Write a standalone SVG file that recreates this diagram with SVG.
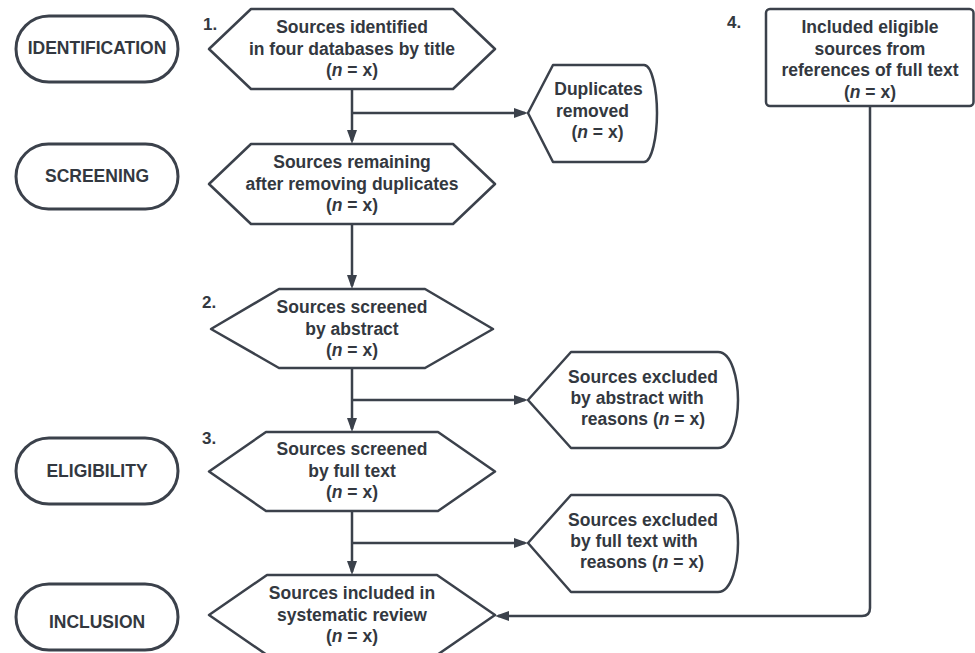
<svg xmlns="http://www.w3.org/2000/svg" width="975" height="653" viewBox="0 0 975 653">
<defs>
<style>
.sh{fill:#ffffff;stroke:#3b414b;stroke-width:2.5;stroke-linejoin:round}
.pill{fill:#ffffff;stroke:#3b414b;stroke-width:3}
.t{font-family:"Liberation Sans",Arial,sans-serif;font-weight:bold;font-size:17.5px;fill:#333840;text-anchor:middle}
.num{font-family:"Liberation Sans",Arial,sans-serif;font-weight:bold;font-size:17px;fill:#333840}
.c{fill:none;stroke:#3b414b;stroke-width:2.5}
.a{marker-end:url(#arr)}
</style>
<marker id="arr" markerUnits="userSpaceOnUse" markerWidth="16" markerHeight="12" refX="11" refY="5" orient="auto">
<path d="M0,0 L14,5 L0,10 Z" fill="#3b414b"/>
</marker>
</defs>
<rect width="975" height="653" fill="#ffffff"/>

<g id="stage-identification">
<rect class="pill" x="16" y="16" width="162" height="66" rx="33"/>
<text class="t" x="97" y="54">IDENTIFICATION</text>
</g>
<g id="stage-screening">
<rect class="pill" x="16" y="144" width="162" height="65" rx="32.5"/>
<text class="t" x="97" y="182">SCREENING</text>
</g>
<g id="stage-eligibility">
<rect class="pill" x="16" y="438" width="162" height="66" rx="33"/>
<text class="t" x="97" y="477">ELIGIBILITY</text>
</g>
<g id="stage-inclusion">
<rect class="pill" x="16" y="584" width="162" height="66" rx="33"/>
<text class="t" x="97" y="628">INCLUSION</text>
</g>

<g id="connectors">
<path class="c a" d="M352,89 V141"/>
<path class="c a" d="M352,113 H525"/>
<path class="c a" d="M352,224 V286"/>
<path class="c a" d="M352,368 V429"/>
<path class="c a" d="M352,400 H525"/>
<path class="c a" d="M352,511 V572"/>
<path class="c a" d="M352,543 H525"/>
<path class="c a" d="M870,106 V608 Q870,616 862,616 H498"/>
</g>

<g id="n1">
<polygon class="sh" points="209,49 251,9 453,9 495,49 453,89 251,89"/>
<text class="num" x="203" y="30">1.</text>
<text class="t" x="352" y="33">Sources identified</text>
<text class="t" x="352" y="54.5">in four databases by title</text>
<text class="t" x="352" y="76">(<tspan font-style="italic">n</tspan> = x)</text>
</g>

<g id="n-duplicates">
<path class="sh" d="M528,113 L553,65 L644,65 C652,65 657,90 657,113 C657,136 652,162 644,162 L553,162 Z"/>
<text class="t" x="598.5" y="95">Duplicates</text>
<text class="t" x="592.5" y="117">removed</text>
<text class="t" x="597.5" y="138">(<tspan font-style="italic">n</tspan> = x)</text>
</g>

<g id="n-remaining">
<polygon class="sh" points="209,184 251,144 453,144 495,184 453,224 251,224"/>
<text class="t" x="352" y="168">Sources remaining</text>
<text class="t" x="352" y="189.5">after removing duplicates</text>
<text class="t" x="352" y="211">(<tspan font-style="italic">n</tspan> = x)</text>
</g>

<g id="n2">
<polygon class="sh" points="211,329 279,289 425,289 493,329 425,368 279,368"/>
<text class="num" x="202" y="308">2.</text>
<text class="t" x="352" y="313">Sources screened</text>
<text class="t" x="352" y="334.5">by abstract</text>
<text class="t" x="352" y="356">(<tspan font-style="italic">n</tspan> = x)</text>
</g>

<g id="n-excluded-abstract">
<path class="sh" d="M528,400 L571,352 L718,352 C732,352 738,380 738,400 C738,420 732,448 718,448 L571,448 Z"/>
<text class="t" x="643" y="383">Sources excluded</text>
<text class="t" x="637" y="404">by abstract with</text>
<text class="t" x="643" y="425">reasons (<tspan font-style="italic">n</tspan> = x)</text>
</g>

<g id="n3">
<polygon class="sh" points="209,471.5 266,432 438,432 495,471.5 438,511 266,511"/>
<text class="num" x="202" y="444">3.</text>
<text class="t" x="352" y="455">Sources screened</text>
<text class="t" x="352" y="476.5">by full text</text>
<text class="t" x="352" y="498">(<tspan font-style="italic">n</tspan> = x)</text>
</g>

<g id="n-excluded-fulltext">
<path class="sh" d="M528,543 L571,495 L718,495 C732,495 738,523 738,543 C738,563 732,592 718,592 L571,592 Z"/>
<text class="t" x="643" y="526">Sources excluded</text>
<text class="t" x="634" y="547">by full text with</text>
<text class="t" x="642" y="568">reasons (<tspan font-style="italic">n</tspan> = x)</text>
</g>

<g id="n-included">
<polygon class="sh" points="209,615 267,575 437,575 495,615 437,655 267,655"/>
<text class="t" x="352" y="599">Sources included in</text>
<text class="t" x="352" y="620.5">systematic review</text>
<text class="t" x="352" y="642">(<tspan font-style="italic">n</tspan> = x)</text>
</g>

<g id="n4">
<rect class="sh" x="766" y="9" width="207.5" height="97" rx="4"/>
<text class="num" x="727" y="28">4.</text>
<text class="t" x="870" y="33">Included eligible</text>
<text class="t" x="870" y="55">sources from</text>
<text class="t" x="870" y="76">references of full text</text>
<text class="t" x="870" y="97.5">(<tspan font-style="italic">n</tspan> = x)</text>
</g>
</svg>
